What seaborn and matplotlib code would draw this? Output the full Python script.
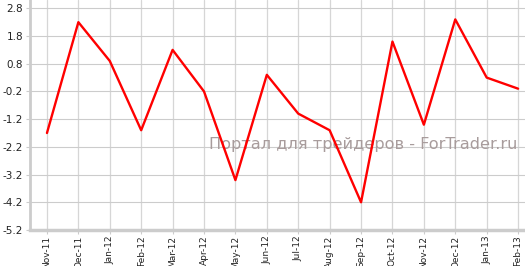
import matplotlib
matplotlib.use("Agg")
import matplotlib.pyplot as plt
import seaborn as sns
import pandas as pd

months = ["Nov-11", "Dec-11", "Jan-12", "Feb-12", "Mar-12", "Apr-12", "May-12", "Jun-12",
          "Jul-12", "Aug-12", "Sep-12", "Oct-12", "Nov-12", "Dec-12", "Jan-13", "Feb-13"]
values = [-1.7, 2.3, 0.9, -1.6, 1.3, -0.2, -3.4, 0.4,
          -1.0, -1.6, -4.2, 1.6, -1.4, 2.4, 0.3, -0.1]
y_ticks = [2.8, 1.8, 0.8, -0.2, -1.2, -2.2, -3.2, -4.2, -5.2]
watermark = "Портал для трейдеров - ForTrader.ru"

sns.set_style("white")
plt.rcParams['font.family'] = ['DejaVu Sans']

df = pd.DataFrame({"idx": range(len(months)), "value": values})

fig = plt.figure(figsize=(5.25, 2.66), dpi=100)
ax = fig.add_axes([30 / 525, (266 - 230) / 266, (525 - 30) / 525, 230 / 266])

sns.lineplot(data=df, x="idx", y="value", ax=ax, color="#ff0000", linewidth=1.7, zorder=3)

ax.set_xlim(-0.54, 15.22)
ax.set_ylim(-5.2, 3.1)
ax.set_xticks(range(len(months)))
ax.set_xticklabels(months, rotation=90, fontsize=6.5, color="#222222")
ax.set_yticks(y_ticks)
ax.set_yticklabels([f"{v:.1f}" for v in y_ticks], fontsize=7.5, color="#222222")
ax.set_xlabel("")
ax.set_ylabel("")

ax.grid(True, axis="y", color="#cccccc", linewidth=0.8)
ax.grid(True, axis="x", color="#d6d6d6", linewidth=0.9)
ax.set_axisbelow(True)

for s in ["top", "right"]:
    ax.spines[s].set_visible(False)
ax.spines["left"].set_color("#cccccc")
ax.spines["left"].set_linewidth(2)
ax.spines["bottom"].set_color("#cccccc")
ax.spines["bottom"].set_linewidth(2.5)

ax.tick_params(axis="x", length=3, width=0.8, color="#cccccc", pad=1, direction="out", bottom=True)
ax.tick_params(axis="y", length=3, width=0.8, color="#cccccc", pad=2, direction="out", left=True)

ax.text(0.984, 0.37, watermark, transform=ax.transAxes, ha="right", va="center",
        fontsize=11.6, color="#a89c9c", zorder=2)

fig.savefig("out.png", dpi=100)
